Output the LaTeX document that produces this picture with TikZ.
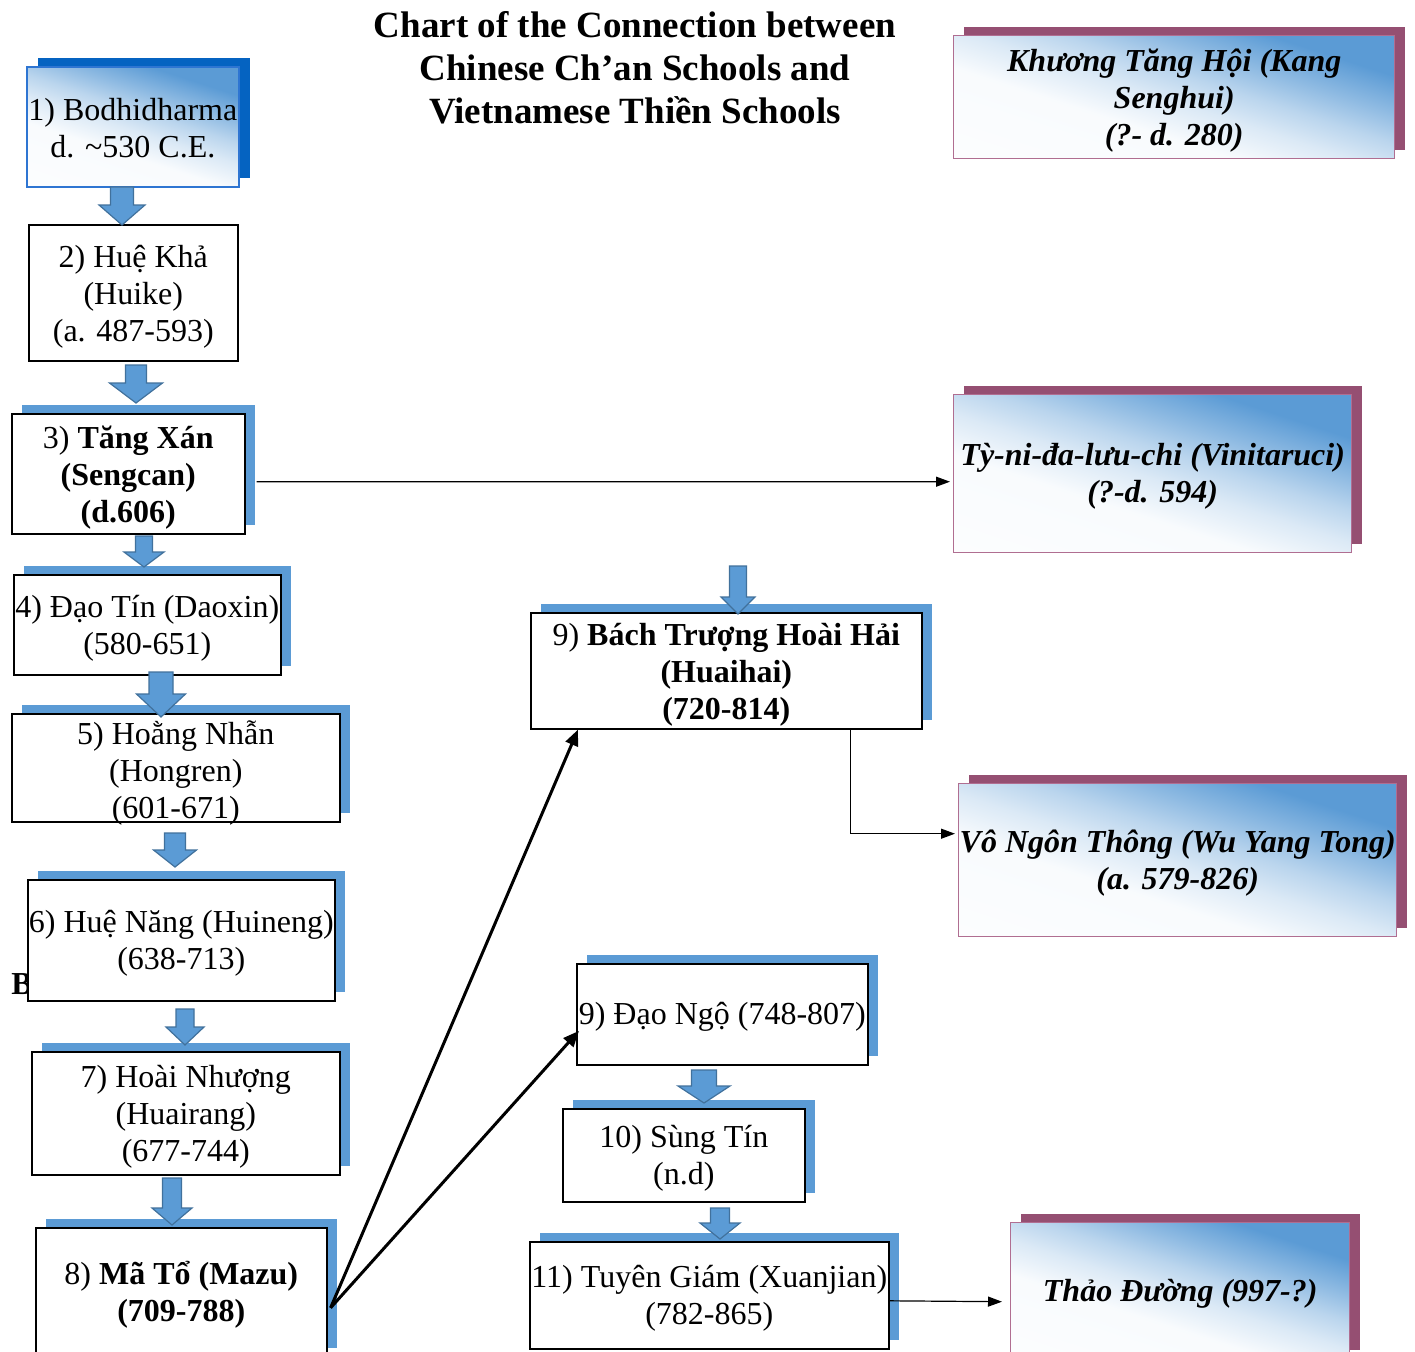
\documentclass[tikz,border=0pt]{standalone}
\usepackage{fontspec}
\setmainfont{Liberation Serif}
\usetikzlibrary{arrows.meta,shadows}
\definecolor{ablue}{RGB}{91,155,213}
\definecolor{aedge}{RGB}{65,113,156}
\definecolor{dblue}{RGB}{5,99,193}
\definecolor{fedge}{RGB}{46,117,210}
\definecolor{plum}{RGB}{149,79,114}
\definecolor{pedge}{RGB}{176,110,145}
\pgfdeclareverticalshading{vgrad}{100bp}{color(0bp)=(white); color(40bp)=(white!96!ablue); color(49bp)=(ablue!22!white); color(56bp)=(ablue!42!white); color(63bp)=(ablue!68!white); color(72bp)=(ablue); color(100bp)=(ablue)}
\newcommand{\blk}[6]{%
  \filldraw[fill=ablue,draw=aedge,line width=1.2pt,line join=miter]
  (#1-#3,#2) -- (#1+#3,#2) -- (#1+#3,#5) -- (#1+#4,#5) -- (#1,#6) -- (#1-#4,#5) -- (#1-#3,#5) -- cycle;}
\tikzset{
  pbox/.style={draw=black, line width=1.6pt, fill=white, inner sep=0pt, anchor=north west},
  bshad/.style={general shadow={fill=ablue, shadow xshift=10pt, shadow yshift=9pt}},
  grad/.style={shading=vgrad, shading angle=-18},
  vbox/.style={pbox, draw=pedge, line width=1.4pt, grad, general shadow={fill=plum, shadow xshift=10pt, shadow yshift=9pt}},
  fbox/.style={pbox, draw=fedge, line width=1.8pt, grad, general shadow={fill=dblue, shadow xshift=11pt, shadow yshift=9pt}},
  txt/.style={font=\fontsize{32}{37}\selectfont, align=center, inner sep=0pt},
  vtxt/.style={txt, font=\fontsize{32}{37}\selectfont\bfseries\itshape},
  conthin/.style={line width=1.2pt, -{Triangle[length=14pt,width=10pt]}},
  conthick/.style={line width=3pt, -{Triangle[length=16pt,width=13pt]}},
}
\begin{document}
\begin{tikzpicture}[x=1pt,y=-1pt]
\fill[white] (0,0) rectangle (1415,1351);
\useasboundingbox (0,0) rectangle (1415,1351);
\clip (0,0) rectangle (1415,1351);

\node[font=\fontsize{37}{43}\selectfont\bfseries, align=center, inner sep=0pt] (title) at (635,68)
  {Chart of the Connection between\\Chinese Ch’an Schools and\\Vietnamese Thiền Schools};

\node[font=\fontsize{32}{37}\selectfont\bfseries, inner sep=0pt] (bl) at (22,984) {B};

% left column
\node[fbox, minimum width=212, minimum height=120] (b1) at (26,66) {};
\node[pbox, minimum width=209, minimum height=136] (b2) at (28,224) {};
\node[pbox, bshad, minimum width=233, minimum height=120] (b3) at (11,413) {};
\node[pbox, bshad, minimum width=267, minimum height=100] (b4) at (13,574) {};
\node[pbox, bshad, minimum width=328, minimum height=108] (b5) at (11,713) {};
\node[pbox, bshad, minimum width=307, minimum height=121] (b6) at (27,879) {};
\node[pbox, bshad, minimum width=308, minimum height=123] (b7) at (31,1051) {};
\node[pbox, bshad, minimum width=291, minimum height=129] (b8) at (35,1227) {};
% middle column
\node[pbox, bshad, minimum width=391, minimum height=116] (b9) at (530,612) {};
\node[pbox, bshad, minimum width=291, minimum height=101] (dn) at (576,963) {};
\node[pbox, bshad, minimum width=242, minimum height=93] (b10) at (562,1108) {};
\node[pbox, bshad, minimum width=359, minimum height=107] (b11) at (529,1241) {};
% right column
\node[vbox, minimum width=441, minimum height=123] (kh) at (953,35) {};
\node[vbox, minimum width=398, minimum height=158] (ty) at (953,394) {};
\node[vbox, minimum width=438, minimum height=153] (vo) at (958,783) {};
\node[vbox, minimum width=339, minimum height=136] (th) at (1010,1222) {};

% texts
\node[txt] (t1) at ([yshift=-1pt]b1.center) {1) Bodhidharma\\d. \textasciitilde530 C.E.};
\node[txt] (t2) at ([yshift=-3.5pt]b2.center) {2) Huệ Khả\\(Huike)\\(a. 487-593)};
\node[txt] (t3) at ([yshift=-3.5pt]b3.center) {3) \textbf{Tăng Xán}\\\textbf{(Sengcan)}\\\textbf{(d.606)}};
\node[txt] (t4) at ([yshift=-3pt]b4.center) {4) Đạo Tín (Daoxin)\\(580-651)};
\node[txt] (t5) at ([yshift=-5pt]b5.center) {5) Hoằng Nhẫn\\(Hongren)\\(601-671)};
\node[txt] (t6) at ([yshift=-3pt]b6.center) {6) Huệ Năng (Huineng)\\(638-713)};
\node[txt] (t7) at ([yshift=-3pt]b7.center) {7) Hoài Nhượng\\(Huairang)\\(677-744)};
\node[txt] (t8) at ([yshift=-2pt]b8.center) {8) \textbf{Mã Tổ (Mazu)}\\\textbf{(709-788)}};
\node[txt] (t9) at ([yshift=-3.5pt]b9.center) {9) \textbf{Bách Trượng Hoài Hải}\\\textbf{(Huaihai)}\\\textbf{(720-814)}};
\node[txt] (tdn) at ([yshift=-3pt]dn.center) {9) Đạo Ngộ (748-807)};
\node[txt] (t10) at ([yshift=-3pt]b10.center) {10) Sùng Tín\\(n.d)};
\node[txt] (t11) at ([yshift=-3pt]b11.center) {11) Tuyên Giám (Xuanjian)\\(782-865)};
\node[vtxt] (tkh) at ([yshift=-3pt]kh.center) {Khương Tăng Hội (Kang\\Senghui)\\(?- d. 280)};
\node[vtxt] (tty) at ([yshift=-3pt]ty.center) {Tỳ-ni-đa-lưu-chi (Vinitaruci)\\(?-d. 594)};
\node[vtxt] (tvo) at ([yshift=-3pt]vo.center) {Vô Ngôn Thông (Wu Yang Tong)\\(a. 579-826)};
\node[vtxt] (tth) at ([yshift=-3pt]th.center) {Thảo Đường (997-?)};

% block arrows
\blk{122}{187}{11.5}{23}{205}{225}
\blk{136}{365}{10.5}{26.5}{383}{403}
\blk{144}{536}{8.5}{20}{552}{567}
\blk{161}{672}{12}{24.5}{694}{717}
\blk{175}{833}{10.5}{21.5}{850}{867}
\blk{185}{1009}{9}{19}{1027}{1045}
\blk{172}{1178}{9.5}{20}{1208}{1225}
\blk{738}{566}{8.5}{17}{597}{614}
\blk{704}{1070}{12.5}{26}{1086}{1103}
\blk{720}{1208}{9.5}{20}{1223}{1239}

% connectors
\draw[conthin] ([xshift=11pt,yshift=-8pt]b3.east) -- ([xshift=-3pt,yshift=-8pt]ty.west);
\draw[conthin] ([xshift=124.5pt]b9.south) |- ([xshift=-3pt,yshift=26.5pt]vo.west);
\draw[conthick] ([xshift=3pt,yshift=-15.5pt]b8.east) -- ([xshift=48pt]b9.south west);
\draw[conthick] ([xshift=3pt,yshift=-15.5pt]b8.east) -- ([xshift=3pt,yshift=-16.5pt]dn.west);
\draw[conthin] ([yshift=-5.5pt]b11.east) -- ([xshift=-8pt,yshift=-11pt]th.west);
\end{tikzpicture}
\end{document}
